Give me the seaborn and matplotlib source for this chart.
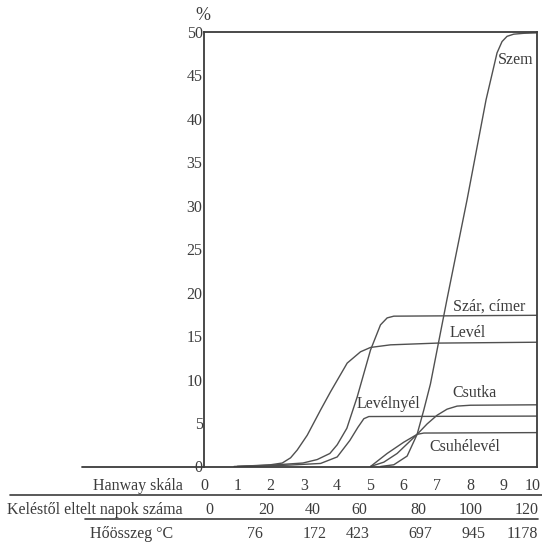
import numpy as np
import pandas as pd
import matplotlib
matplotlib.use("Agg")
import matplotlib.pyplot as plt
import matplotlib.transforms as mtransforms
from matplotlib.lines import Line2D
import seaborn as sns

# curves: x = Hanway scale, y = %
level_x = [0.9, 1.5, 2.0, 2.35, 2.6, 2.8, 3.1, 3.5, 3.8, 4.3, 4.7, 5.0, 5.6, 7.0, 10.0]
level_y = [0.0, 0.1, 0.2, 0.4, 1.0, 1.9, 3.6, 6.5, 8.6, 11.9, 13.2, 13.7, 14.0, 14.2, 14.3]

szar_x = [1.0, 2.0, 2.97, 3.4, 3.78, 4.0, 4.29, 4.6, 5.0, 5.3, 5.5, 5.7, 10.0]
szar_y = [0.0, 0.15, 0.4, 0.8, 1.5, 2.5, 4.4, 8.0, 13.4, 16.3, 17.1, 17.3, 17.4]

nyel_x = [1.0, 2.5, 3.5, 4.0, 4.38, 4.62, 4.8, 4.95, 10.0]
nyel_y = [0.0, 0.15, 0.35, 1.1, 3.0, 4.5, 5.5, 5.75, 5.8]

csuhe_x = [5.0, 5.5, 6.0, 6.4, 6.6, 10.0]
csuhe_y = [0.0, 1.5, 2.8, 3.7, 3.85, 3.9]

csutka_x = [5.0, 5.4, 5.8, 6.1, 6.4, 6.7, 7.0, 7.3, 7.6, 8.0, 10.0]
csutka_y = [0.0, 0.5, 1.5, 2.6, 3.7, 4.9, 5.9, 6.6, 6.95, 7.05, 7.1]

szem_x = [5.3, 5.7, 6.1, 6.4, 6.6, 6.8, 7.3, 7.9, 8.47, 8.8, 8.95, 9.1, 9.3, 9.6, 10.0]
szem_y = [0.0, 0.2, 1.2, 3.7, 6.5, 9.5, 19.3, 30.7, 42.2, 47.6, 48.9, 49.5, 49.75, 49.85, 49.9]

# bottom scales
hanway = [0, 1, 2, 3, 4, 5, 6, 7, 8, 9, 10]
napok = [0, 20, 40, 60, 80, 100, 120]
napok_pos = [0.15, 1.86, 3.27, 4.66, 6.43, 8.02, 9.7]
hoosszeg = [76, 172, 423, 697, 945, 1178]
hoosszeg_pos = [1.53, 3.33, 4.62, 6.49, 8.08, 9.56]

series = {
    "Levél": (level_x, level_y),
    "Szár, címer": (szar_x, szar_y),
    "Levélnyél": (nyel_x, nyel_y),
    "Csuhélevél": (csuhe_x, csuhe_y),
    "Csutka": (csutka_x, csutka_y),
    "Szem": (szem_x, szem_y),
}

rows = []
for name, (xs, ys) in series.items():
    for xv, yv in zip(xs, ys):
        rows.append({"resz": name, "hanway": xv, "pct": yv})
df = pd.DataFrame(rows)

sns.set_style("white")
plt.rcParams['font.family'] = ['Liberation Serif', 'DejaVu Serif']

W, H = 542, 544
fig = plt.figure(figsize=(W / 100, H / 100), dpi=100)
x0, x1, ytop, ybot = 204, 537, 32, 466.5
ax = fig.add_axes([x0 / W, 1 - ybot / H, (x1 - x0) / W, (ybot - ytop) / H])

ink = "#3c3c3c"
line_c = "#505050"

for name in series:
    sns.lineplot(data=df[df["resz"] == name], x="hanway", y="pct", sort=False,
                 estimator=None, color=line_c, linewidth=1.0, ax=ax, legend=False)

ax.set_xlim(0, 10)
ax.set_ylim(0, 50)
ax.set_xlabel("")
ax.set_ylabel("")
for sp in ax.spines.values():
    sp.set_color(ink)
    sp.set_linewidth(1.3)

fs = 11.5
ax.set_yticks(range(0, 51, 5))
ax.tick_params(axis="y", direction="in", length=7, width=1.2, color=ink,
               labelsize=fs, labelcolor=ink, pad=1)
ax.set_xticks(hanway[1:-1])
ax.set_xticklabels([])
ax.tick_params(axis="x", direction="inout", length=10, width=1.2, color=ink)

# baseline continues to the left of the axis
ax.axhline(0, xmin=-(x0 - 82) / (x1 - x0), xmax=0, clip_on=False, color=ink, lw=1.3)

# curve names
ax.text(9.37, 46.8, "Szem", ha="center", va="center", fontsize=fs, color=ink)
ax.text(8.56, 18.4, "Szár, címer", ha="center", va="center", fontsize=fs, color=ink)
ax.text(7.93, 15.4, "Levél", ha="center", va="center", fontsize=fs, color=ink)
ax.text(8.11, 8.46, "Csutka", ha="center", va="center", fontsize=fs, color=ink)
ax.text(5.53, 7.2, "Levélnyél", ha="center", va="center", fontsize=fs, color=ink)
ax.text(7.84, 2.24, "Csuhélevél", ha="center", va="center", fontsize=fs, color=ink)

fig.text(203 / W, 1 - 16 / H, "%", ha="center", va="center", fontsize=13, color=ink)

# scale table under the chart
tr = mtransforms.blended_transform_factory(ax.transData, fig.transFigure)
r1, r2, r3 = 1 - 486 / H, 1 - 510 / H, 1 - 534 / H
for v in hanway[:-1]:
    ax.text(v, r1, str(v), transform=tr, ha="center", va="center", fontsize=fs, color=ink)
fig.text(541 / W, r1, str(hanway[-1]), ha="right", va="center", fontsize=fs, color=ink)
for v, p in zip(napok, napok_pos):
    ax.text(p, r2, str(v), transform=tr, ha="center", va="center", fontsize=fs, color=ink)
for v, p in zip(hoosszeg, hoosszeg_pos):
    ax.text(p, r3, str(v), transform=tr, ha="center", va="center", fontsize=fs, color=ink)

fig.text(183 / W, r1, "Hanway skála", ha="right", va="center", fontsize=fs, color=ink)
fig.text(183 / W, r2, "Keléstől eltelt napok száma", ha="right", va="center", fontsize=fs, color=ink)
fig.text(90 / W, r3, "Hőösszeg °C", ha="left", va="center", fontsize=fs, color=ink)

fig.add_artist(Line2D([10 / W, 1.0], [1 - 495 / H] * 2, color=ink, lw=1.2))
fig.add_artist(Line2D([85 / W, 538 / W], [1 - 519 / H] * 2, color=ink, lw=1.2))

fig.savefig("out.png", dpi=100)
